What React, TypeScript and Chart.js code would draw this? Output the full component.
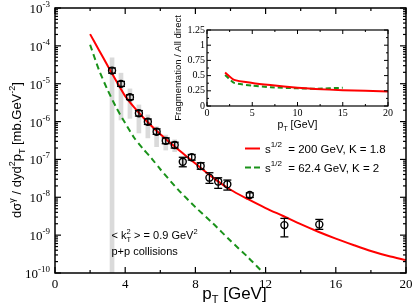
import React, { useEffect, useRef } from 'react';
import { Chart, registerables } from 'chart.js';

Chart.register(...registerables);

// ---------------- main panel data ----------------
const curve200X = [2, 2.5, 3, 3.5, 4, 4.5, 5, 5.5, 6, 6.5, 7, 7.5, 8, 9, 10, 11, 12, 13, 14, 15, 16, 17, 18, 19, 20];
const curve200Y = [2.04e-4, 7.8e-5, 3.0e-5, 1.17e-5, 4.7e-6, 2.4e-6, 1.32e-6, 7.6e-7, 4.6e-7, 2.9e-7, 1.86e-7, 1.2e-7, 7.8e-8, 3.3e-8, 1.58e-8, 8.9e-9, 5.2e-9, 3.2e-9, 1.95e-9, 1.23e-9, 8.1e-10, 5.5e-10, 3.8e-10, 2.8e-10, 2.2e-10];

const curve62X = [2, 2.5, 3, 3.5, 4, 4.5, 5, 5.5, 6, 7, 8, 9, 10, 11, 12];
const curve62Y = [1.07e-4, 2.34e-5, 6.8e-6, 2.3e-6, 9.1e-7, 3.8e-7, 1.95e-7, 1.07e-7, 5.5e-8, 1.62e-8, 5.5e-9, 2.04e-9, 7.1e-10, 2.6e-10, 8.7e-11];

const dataX = [3.25, 3.76, 4.27, 4.78, 5.29, 5.79, 6.31, 6.82, 7.28, 7.79, 8.3, 8.8, 9.3, 9.82, 11.1, 13.07, 15.06];
const dataY = [2.22e-5, 9.9e-6, 4.4e-6, 1.66e-6, 9.9e-7, 5.4e-7, 3.1e-7, 2.4e-7, 8.7e-8, 1.14e-7, 6.7e-8, 3.3e-8, 2.6e-8, 2.2e-8, 1.15e-8, 1.84e-9, 1.92e-9];
const dataLo = [1.9e-5, 8.5e-6, 3.8e-6, 1.4e-6, 8.4e-7, 4.6e-7, 2.6e-7, 2.0e-7, 6.4e-8, 9.6e-8, 5.5e-8, 2.33e-8, 1.72e-8, 1.55e-8, 9.9e-9, 9.0e-10, 1.42e-9];
const dataHi = [2.6e-5, 1.15e-5, 5.1e-6, 1.95e-6, 1.17e-6, 6.4e-7, 3.7e-7, 2.85e-7, 1.14e-7, 1.35e-7, 8.2e-8, 4.45e-8, 3.28e-8, 2.85e-8, 1.31e-8, 2.77e-9, 2.6e-9];

const bandX = [3.25, 3.76, 4.27, 4.78, 5.29, 5.79, 6.31, 6.82, 7.28];
const bandLo = [1e-10, 1.1e-6, 1.22e-6, 5.0e-7, 3.7e-7, 2.17e-7, 1.77e-7, 1.6e-7, 6.3e-8];
const bandHi = [4.8e-5, 1.9e-5, 7.3e-6, 2.75e-6, 1.5e-6, 7.3e-7, 4.4e-7, 3.3e-7, 1.1e-7];

const xMajorTicks = [0, 4, 8, 12, 16, 20];
const xMinorTicks = [2, 6, 10, 14, 18];
const yDecades = [-10, -9, -8, -7, -6, -5, -4, -3];
const yMinorMantissas = [2, 3, 4, 5, 6, 7, 8, 9];

// ---------------- inset data ----------------
const insetRedX = [2, 3, 5, 7, 10, 12, 15, 20];
const insetRedY = [0.55, 0.43, 0.38, 0.345, 0.3, 0.28, 0.26, 0.24];
const insetGreenX = [2, 3, 5, 7, 10, 12, 15];
const insetGreenY = [0.51, 0.38, 0.335, 0.31, 0.29, 0.285, 0.3];
const insetXTicks = [0, 5, 10, 15, 20];
const insetXMinor = [2.5, 7.5, 12.5, 17.5];
const insetYTicks = [0, 0.25, 0.5, 0.75, 1, 1.25];
const insetYLabels = ['0', '0.25', '0.5', '0.75', '1', '1.25'];
const insetYMinor = [0.125, 0.375, 0.625, 0.875, 1.125];

const RED = '#ff0000';
const GREEN = '#1a921a';
const BAND = '#dadada';

const SANS = '"Liberation Sans", Arial, Helvetica, sans-serif';
const SERIF = '"Liberation Serif", "Times New Roman", serif';

type Seg = { t: string; size: number; dy?: number; serif?: boolean; noAdvance?: boolean };

function segFont(s: Seg) {
  return `${s.size}px ${s.serif ? SERIF : SANS}`;
}

function richWidth(ctx: CanvasRenderingContext2D, segs: Seg[]) {
  let w = 0;
  let pending = 0;
  for (const s of segs) {
    ctx.font = segFont(s);
    const m = ctx.measureText(s.t).width;
    if (s.noAdvance) pending = m;
    else {
      w += Math.max(m, pending);
      pending = 0;
    }
  }
  return w;
}

function drawRich(ctx: CanvasRenderingContext2D, segs: Seg[], x: number, y: number, align: 'left' | 'center' | 'right') {
  const w = richWidth(ctx, segs);
  let cx = align === 'left' ? x : align === 'center' ? x - w / 2 : x - w;
  ctx.textAlign = 'left';
  ctx.textBaseline = 'alphabetic';
  let pending = 0;
  for (const s of segs) {
    ctx.font = segFont(s);
    ctx.fillText(s.t, cx, y + (s.dy || 0));
    const m = ctx.measureText(s.t).width;
    if (s.noAdvance) pending = m;
    else {
      cx += Math.max(m, pending);
      pending = 0;
    }
  }
}

function line(ctx: CanvasRenderingContext2D, x1: number, y1: number, x2: number, y2: number) {
  ctx.beginPath();
  ctx.moveTo(x1, y1);
  ctx.lineTo(x2, y2);
  ctx.stroke();
}

const mainDecor = {
  id: 'mainDecor',
  afterDatasetsDraw(chart: any) {
    const ctx: CanvasRenderingContext2D = chart.ctx;
    const xs = chart.scales.x;
    const ys = chart.scales.y;
    ctx.save();
    ctx.strokeStyle = '#000';
    ctx.lineWidth = 1.3;
    for (let i = 0; i < dataX.length; i++) {
      const px = xs.getPixelForValue(dataX[i]);
      const pl = ys.getPixelForValue(dataLo[i]);
      const ph = ys.getPixelForValue(dataHi[i]);
      line(ctx, px, pl, px, ph);
      line(ctx, px - 4, pl, px + 4, pl);
      line(ctx, px - 4, ph, px + 4, ph);
    }
    ctx.restore();
  },
  afterDraw(chart: any) {
    const ctx: CanvasRenderingContext2D = chart.ctx;
    const a = chart.chartArea;
    const xs = chart.scales.x;
    const ys = chart.scales.y;
    ctx.save();
    ctx.strokeStyle = '#000';
    ctx.fillStyle = '#000';
    ctx.lineWidth = 1.5;
    ctx.strokeRect(a.left, a.top, a.right - a.left, a.bottom - a.top);
    ctx.lineWidth = 1.2;
    // x ticks (inward, mirrored)
    for (const v of xMajorTicks) {
      const p = xs.getPixelForValue(v);
      line(ctx, p, a.bottom, p, a.bottom - 6);
      line(ctx, p, a.top, p, a.top + 6);
    }
    for (const v of xMinorTicks) {
      const p = xs.getPixelForValue(v);
      line(ctx, p, a.bottom, p, a.bottom - 3);
      line(ctx, p, a.top, p, a.top + 3);
    }
    // y ticks
    for (const e of yDecades) {
      const p = ys.getPixelForValue(Math.pow(10, e));
      line(ctx, a.left, p, a.left + 6, p);
      line(ctx, a.right, p, a.right - 6, p);
      if (e < -3) {
        for (const m of yMinorMantissas) {
          const q = ys.getPixelForValue(m * Math.pow(10, e));
          line(ctx, a.left, q, a.left + 3, q);
          line(ctx, a.right, q, a.right - 3, q);
        }
      }
    }
    // x tick labels
    ctx.font = `13px ${SERIF}`;
    ctx.textAlign = 'center';
    ctx.textBaseline = 'alphabetic';
    for (const v of xMajorTicks) {
      ctx.fillText(String(v), xs.getPixelForValue(v), a.bottom + 15);
    }
    // y tick labels 10^e
    for (const e of yDecades) {
      const p = ys.getPixelForValue(Math.pow(10, e));
      drawRich(ctx, [
        { t: '10', size: 13, serif: true },
        { t: String(e), size: 9, serif: true, dy: -6 },
      ], a.left - 5, p + 5, 'right');
    }
    // axis titles
    drawRich(ctx, [
      { t: 'p', size: 17 },
      { t: 'T', size: 11, dy: 4 },
      { t: ' [GeV]', size: 17 },
    ], (a.left + a.right) / 2 + 4, 299, 'center');
    ctx.save();
    ctx.translate(21, 150);
    ctx.rotate(-Math.PI / 2);
    drawRich(ctx, [
      { t: 'dσ', size: 13 },
      { t: 'γ', size: 9, dy: -6 },
      { t: ' / dyd', size: 13 },
      { t: '2', size: 9, dy: -6 },
      { t: 'p', size: 13 },
      { t: 'T', size: 9, dy: 3.5 },
      { t: ' [mb.GeV', size: 13 },
      { t: '-2', size: 9, dy: -6 },
      { t: ']', size: 13 },
    ], 0, 0, 'center');
    ctx.restore();
    // legend
    ctx.lineWidth = 2;
    ctx.strokeStyle = RED;
    line(ctx, 245, 148.5, 260, 148.5);
    ctx.strokeStyle = GREEN;
    ctx.setLineDash([6, 3]);
    line(ctx, 245, 167.5, 262, 167.5);
    ctx.setLineDash([]);
    ctx.fillStyle = '#000';
    drawRich(ctx, [
      { t: 's', size: 11.5 },
      { t: '1/2', size: 8, dy: -6 },
      { t: '  = 200 GeV, K = 1.8', size: 11.5 },
    ], 265, 152.5, 'left');
    drawRich(ctx, [
      { t: 's', size: 11.5 },
      { t: '1/2', size: 8, dy: -6 },
      { t: '  = 62.4 GeV, K = 2', size: 11.5 },
    ], 265, 171.5, 'left');
    // annotations
    drawRich(ctx, [
      { t: '< k', size: 11 },
      { t: 'T', size: 7.5, dy: 3, noAdvance: true },
      { t: '2', size: 7.5, dy: -5 },
      { t: ' > = 0.9 GeV', size: 11 },
      { t: '2', size: 7.5, dy: -5 },
    ], 111.5, 238.5, 'left');
    drawRich(ctx, [{ t: 'p+p collisions', size: 11 }], 111.5, 255, 'left');
    ctx.restore();
  },
};

const insetDecor = {
  id: 'insetDecor',
  beforeDatasetsDraw(chart: any) {
    const ctx: CanvasRenderingContext2D = chart.ctx;
    const a = chart.chartArea;
    ctx.save();
    ctx.fillStyle = '#fff';
    ctx.fillRect(a.left, a.top, a.right - a.left, a.bottom - a.top);
    ctx.restore();
  },
  afterDraw(chart: any) {
    const ctx: CanvasRenderingContext2D = chart.ctx;
    const a = chart.chartArea;
    const xs = chart.scales.x;
    const ys = chart.scales.y;
    ctx.save();
    ctx.strokeStyle = '#000';
    ctx.fillStyle = '#000';
    ctx.lineWidth = 1.2;
    ctx.strokeRect(a.left, a.top, a.right - a.left, a.bottom - a.top);
    ctx.lineWidth = 1;
    for (const v of insetXTicks) {
      const p = xs.getPixelForValue(v);
      line(ctx, p, a.bottom, p, a.bottom - 4);
      line(ctx, p, a.top, p, a.top + 4);
    }
    for (const v of insetXMinor) {
      const p = xs.getPixelForValue(v);
      line(ctx, p, a.bottom, p, a.bottom - 2);
      line(ctx, p, a.top, p, a.top + 2);
    }
    for (const v of insetYTicks) {
      const p = ys.getPixelForValue(v);
      line(ctx, a.left, p, a.left + 4, p);
      line(ctx, a.right, p, a.right - 4, p);
    }
    for (const v of insetYMinor) {
      const p = ys.getPixelForValue(v);
      line(ctx, a.left, p, a.left + 2, p);
      line(ctx, a.right, p, a.right - 2, p);
    }
    ctx.font = `10px ${SERIF}`;
    ctx.textAlign = 'center';
    ctx.textBaseline = 'alphabetic';
    for (const v of insetXTicks) {
      ctx.fillText(String(v), xs.getPixelForValue(v), a.bottom + 10);
    }
    ctx.textAlign = 'right';
    ctx.textBaseline = 'middle';
    insetYTicks.forEach((v, i) => {
      ctx.fillText(insetYLabels[i], a.left - 2, ys.getPixelForValue(v));
    });
    drawRich(ctx, [
      { t: 'p', size: 10.5 },
      { t: 'T', size: 7, dy: 3 },
      { t: ' [GeV]', size: 10.5 },
    ], (a.left + a.right) / 2, a.bottom + 22, 'center');
    ctx.save();
    ctx.translate(a.left - 26, (a.top + a.bottom) / 2);
    ctx.rotate(-Math.PI / 2);
    drawRich(ctx, [{ t: 'Fragmentation / All direct', size: 9.5 }], 0, 0, 'center');
    ctx.restore();
    ctx.restore();
  },
};

export default function App() {
  const mainRef = useRef<HTMLCanvasElement | null>(null);
  const insetRef = useRef<HTMLCanvasElement | null>(null);

  useEffect(() => {
    if (!mainRef.current || !insetRef.current) return;
    const main = new Chart(mainRef.current, {
      type: 'line',
      data: {
        datasets: [
          {
            type: 'scatter',
            label: 'data',
            data: dataX.map((x, i) => ({ x, y: dataY[i] })),
            pointStyle: 'circle',
            pointRadius: 3.5,
            borderColor: '#000',
            backgroundColor: 'rgba(0,0,0,0)',
            borderWidth: 1.4,
            showLine: false,
            order: 0,
          } as any,
          {
            type: 'line',
            label: 's1/2 = 200 GeV, K = 1.8',
            data: curve200X.map((x, i) => ({ x, y: curve200Y[i] })),
            borderColor: RED,
            borderWidth: 2,
            pointRadius: 0,
            tension: 0.25,
            fill: false,
            order: 1,
          },
          {
            type: 'line',
            label: 's1/2 = 62.4 GeV, K = 2',
            data: curve62X.map((x, i) => ({ x, y: curve62Y[i] })),
            borderColor: GREEN,
            borderWidth: 2,
            borderDash: [6, 4],
            pointRadius: 0,
            tension: 0.25,
            fill: false,
            order: 2,
          },
          {
            type: 'bar',
            label: 'systematic',
            data: bandX.map((x, i) => ({ x, y: [bandLo[i], bandHi[i]] })),
            backgroundColor: BAND,
            borderWidth: 0,
            barThickness: 4,
            order: 3,
          } as any,
        ],
      },
      options: {
        responsive: false,
        animation: false,
        devicePixelRatio: 1,
        layout: { padding: { left: 55, top: 8, right: 9, bottom: 32 } },
        scales: {
          x: { type: 'linear', min: 0, max: 20, display: false, offset: false },
          y: { type: 'logarithmic', min: 1e-10, max: 1e-3, display: false },
        },
        plugins: { legend: { display: false }, tooltip: { enabled: false } },
      },
      plugins: [mainDecor],
    });

    const inset = new Chart(insetRef.current, {
      type: 'line',
      data: {
        datasets: [
          {
            label: 'red',
            data: insetRedX.map((x, i) => ({ x, y: insetRedY[i] })),
            borderColor: RED,
            borderWidth: 2,
            pointRadius: 0,
            tension: 0.2,
          },
          {
            label: 'green',
            data: insetGreenX.map((x, i) => ({ x, y: insetGreenY[i] })),
            borderColor: GREEN,
            borderWidth: 2,
            borderDash: [5, 3],
            pointRadius: 0,
            tension: 0.2,
          },
        ],
      },
      options: {
        responsive: false,
        animation: false,
        devicePixelRatio: 1,
        layout: { padding: { left: 47, top: 16, right: 17, bottom: 30 } },
        scales: {
          x: { type: 'linear', min: 0, max: 20, display: false },
          y: { type: 'linear', min: 0, max: 1.25, display: false },
        },
        plugins: { legend: { display: false }, tooltip: { enabled: false } },
      },
      plugins: [insetDecor],
    });

    return () => {
      main.destroy();
      inset.destroy();
    };
  }, []);

  return (
    <div style={{ position: 'fixed', left: 0, top: 0, width: 415, height: 305, background: '#fff', overflow: 'hidden' }}>
      <canvas ref={mainRef} width={415} height={305} style={{ position: 'absolute', left: 0, top: 0, width: 415, height: 305 }} />
      <canvas ref={insetRef} width={245} height={122} style={{ position: 'absolute', left: 160, top: 14, width: 245, height: 122 }} />
    </div>
  );
}
